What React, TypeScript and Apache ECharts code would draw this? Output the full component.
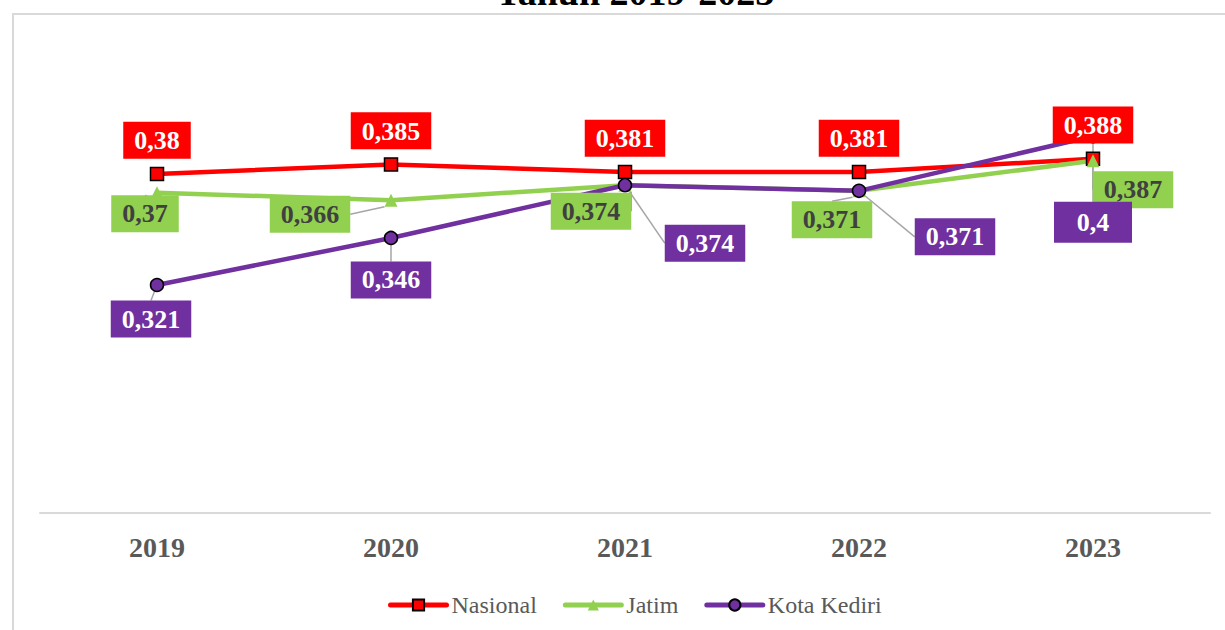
import React, { useEffect, useRef } from "react";
import * as echarts from "echarts";

const years = ["2019", "2020", "2021", "2022", "2023"];
const nasional = [0.38, 0.385, 0.381, 0.381, 0.388];
const jatim = [0.37, 0.366, 0.374, 0.371, 0.387];
const kotaKediri = [0.321, 0.346, 0.374, 0.371, 0.4];
const seriesNames = ["Nasional", "Jatim", "Kota Kediri"];

// label layout offsets (dx, dy from point) – layout only
const jatimOffsets = [[-12, 21], [-81, 14], [-34, 26], [-27, 29], [40, 29]];
const kediriOffsets = [[-6, 34], [0, 42], [80, 58], [96, 46], [0, 86]];

const SERIF = '"Liberation Serif", "DejaVu Serif", serif';
const fmt = (p: any) => String(p.value).replace(".", ",");

export default function App() {
  const ref = useRef<HTMLDivElement>(null);
  useEffect(() => {
    if (!ref.current) return;
    const chart = echarts.init(ref.current, undefined, { renderer: "svg" });
    const baseLabel = {
      show: true,
      formatter: fmt,
      fontFamily: SERIF,
      fontWeight: "bold",
      fontSize: 26,
      lineHeight: 26,
      padding: [6, 11, 5, 11],
    };
    chart.setOption({
      animation: false,
      backgroundColor: "#ffffff",
      graphic: [
        {
          type: "rect",
          shape: { x: 13, y: 14, width: 1300, height: 700 },
          style: { fill: "none", stroke: "#d9d9d9", lineWidth: 2 },
          z: -10,
        },
        {
          type: "text",
          x: 635,
          y: -27,
          style: {
            text: "Tahun 2019-2023",
            font: `bold 38px ${SERIF}`,
            fill: "#000000",
            textAlign: "center",
            textVerticalAlign: "top",
          },
        },
      ],
      grid: { left: 40, right: 15, top: 42, bottom: 117 },
      xAxis: {
        type: "category",
        data: years,
        axisLine: { lineStyle: { color: "#d9d9d9", width: 2 } },
        axisTick: { show: false },
        axisLabel: {
          color: "#595959",
          fontFamily: SERIF,
          fontWeight: "bold",
          fontSize: 28,
          margin: 20,
        },
      },
      yAxis: {
        type: "value",
        min: 0.2,
        max: 0.45,
        show: false,
        splitLine: { show: false },
      },
      legend: {
        data: seriesNames,
        left: 383,
        top: 588,
        itemWidth: 56,
        itemHeight: 14,
        itemGap: 26,
        lineStyle: { width: 5, cap: "round" },
        textStyle: { color: "#595959", fontFamily: SERIF, fontSize: 24 },
      },
      series: [
        {
          name: seriesNames[0],
          type: "line",
          data: nasional,
          symbol: "rect",
          symbolSize: 13,
          lineStyle: { color: "#ff0000", width: 4.5 },
          itemStyle: { color: "#ff0000", borderColor: "#000000", borderWidth: 1.5 },
          label: {
            ...baseLabel,
            position: "top",
            distance: 8,
            color: "#ffffff",
            backgroundColor: "#ff0000",
          },
        },
        {
          name: seriesNames[1],
          type: "line",
          data: jatim,
          symbol: "triangle",
          symbolSize: 13,
          lineStyle: { color: "#92d050", width: 4.5 },
          itemStyle: { color: "#92d050" },
          label: {
            ...baseLabel,
            position: "inside",
            color: "#404040",
            backgroundColor: "#92d050",
          },
          labelLine: { show: true, lineStyle: { color: "#a6a6a6", width: 1.5 } },
          labelLayout: (p: any) => {
            const o = jatimOffsets[p.dataIndex];
            return { dx: o[0], dy: o[1] };
          },
        },
        {
          name: seriesNames[2],
          type: "line",
          data: kotaKediri.map((v, i) =>
            i === 4
              ? { value: v, label: { width: 56, height: 30, align: "center", verticalAlign: "middle" } }
              : v
          ),
          symbol: "circle",
          symbolSize: 13,
          lineStyle: { color: "#7030a0", width: 4.5 },
          itemStyle: { color: "#7030a0", borderColor: "#000000", borderWidth: 1.5 },
          label: {
            ...baseLabel,
            position: "inside",
            color: "#ffffff",
            backgroundColor: "#7030a0",
          },
          labelLine: { show: true, lineStyle: { color: "#a6a6a6", width: 1.5 } },
          labelLayout: (p: any) => {
            const o = kediriOffsets[p.dataIndex];
            return { dx: o[0], dy: o[1] };
          },
        },
      ],
    });
    return () => chart.dispose();
  }, []);
  return (
    <div
      ref={ref}
      style={{ position: "fixed", left: 0, top: 0, width: 1225, height: 630 }}
    />
  );
}
